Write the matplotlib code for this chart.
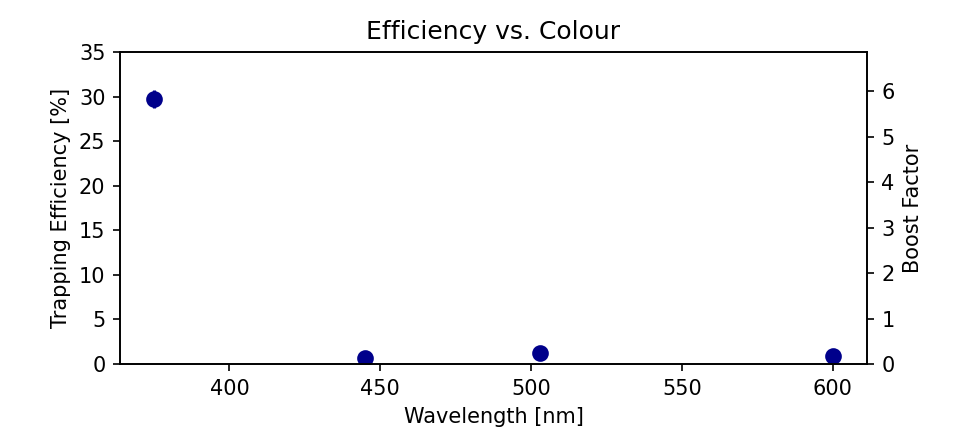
import matplotlib
matplotlib.use("Agg")
import matplotlib.pyplot as plt

wavelength = [375, 445, 503, 600]
efficiency = [29.7, 0.7, 1.2, 0.9]
efficiency_err = [1.0, 0.2, 0.2, 0.2]
boost_scale = 5.1

fig, ax = plt.subplots(figsize=(6.4, 2.96), dpi=150)
fig.subplots_adjust(left=0.125, right=0.903, top=0.883, bottom=0.18)
ax.errorbar(wavelength, efficiency, yerr=efficiency_err, fmt='o', color='darkblue',
            markersize=7, capsize=0)
ax.set_ylim(0, 35)
ax.set_xlabel("Wavelength [nm]")
ax.set_ylabel("Trapping Efficiency [%]")
ax.set_title("Efficiency vs. Colour")
ax2 = ax.twinx()
ax2.set_ylim(0, 35 / boost_scale)
ax2.set_ylabel("Boost Factor")
fig.savefig("out.png", dpi=150)
